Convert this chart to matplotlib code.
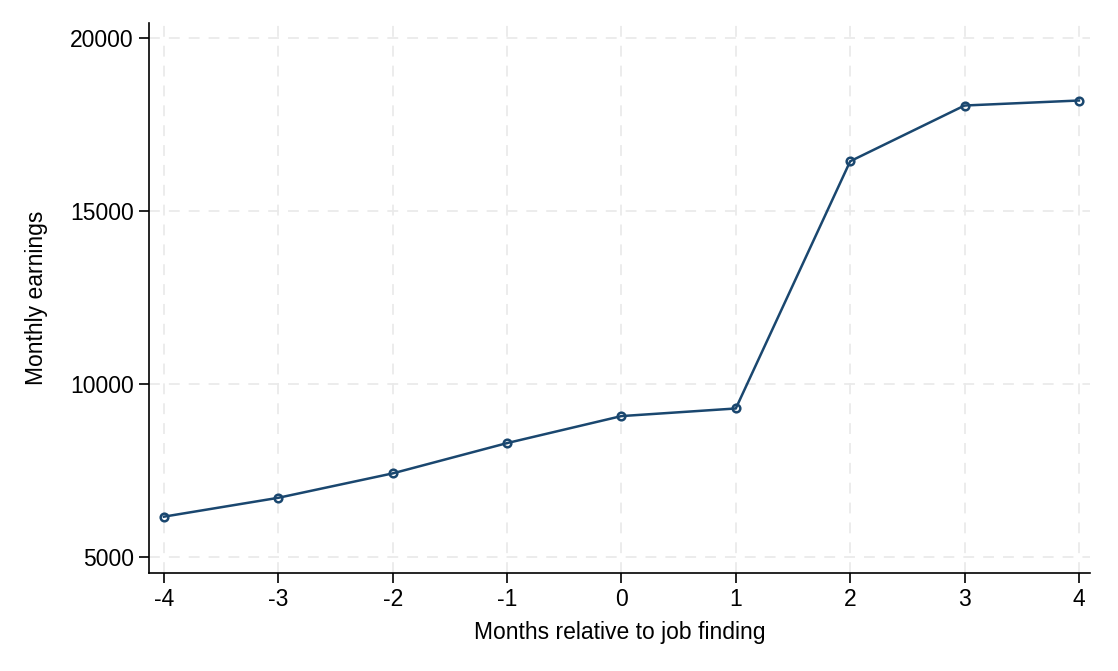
import matplotlib.pyplot as plt

plt.rcParams['font.family'] = ['Liberation Sans', 'DejaVu Sans']

# Data
months = [-4, -3, -2, -1, 0, 1, 2, 3, 4]
earnings = [6175, 6720, 7425, 8300, 9080, 9300, 16440, 18050, 18195]
yticks = [5000, 10000, 15000, 20000]

fig = plt.figure(figsize=(11.18, 6.71), dpi=100)
ax = fig.add_axes([0.1333, 0.146, 0.842, 0.8197])

ax.plot(months, earnings, color='#1a476f', lw=1.8, marker='o', ms=5.5,
        mfc='none', mec='#1a476f', mew=1.8, zorder=3)

ax.set_xlim(-4.13, 4.1)
ax.set_ylim(4547, 20433)
ax.set_xticks(months)
ax.set_yticks(yticks)
ax.set_xticklabels([str(m) for m in months])

ax.grid(True, color='#eaeaea', ls=(0, (6, 5)), lw=1.3)
ax.set_axisbelow(True)

for s in ['top', 'right']:
    ax.spines[s].set_visible(False)
for s in ['left', 'bottom']:
    ax.spines[s].set_linewidth(1.2)

ax.tick_params(axis='both', length=7, width=1.2, labelsize=16.5, pad=4)

ax.set_xlabel('Months relative to job finding', fontsize=16.5, labelpad=7)
ax.set_ylabel('Monthly earnings', fontsize=16.5, labelpad=16)

fig.savefig('out.png', dpi=100)
